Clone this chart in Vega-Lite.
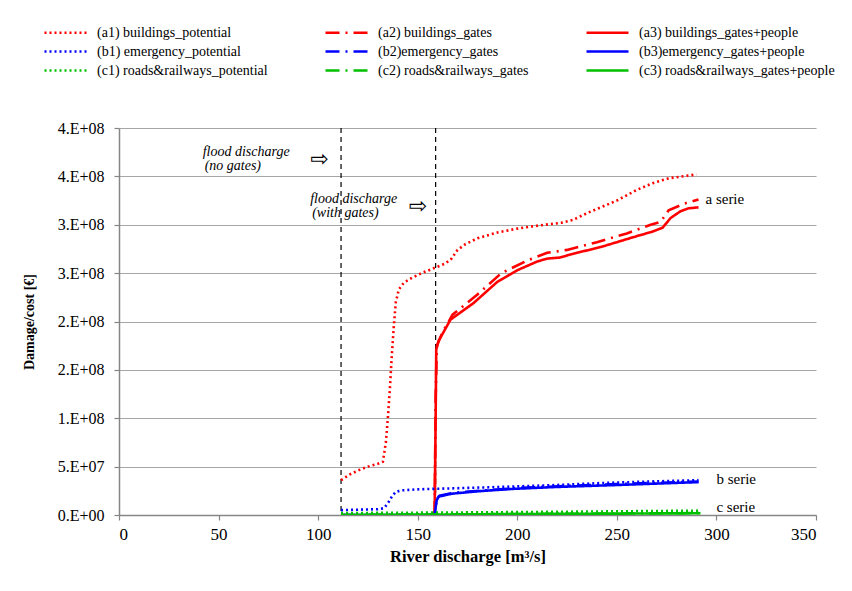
{
  "$schema": "https://vega.github.io/schema/vega-lite/v6.json",
  "width": 697,
  "height": 387,
  "autosize": "none",
  "padding": {"left": 119, "top": 128, "right": 36, "bottom": 76},
  "background": "white",
  "config": {
    "view": {"stroke": null},
    "font": "'Liberation Serif', 'Times New Roman', serif",
    "text": {"font": "'Liberation Serif', 'Times New Roman', serif"},
    "axis": {
      "labelFont": "'Liberation Serif', 'Times New Roman', serif",
      "titleFont": "'Liberation Serif', 'Times New Roman', serif",
      "labelColor": "black",
      "titleColor": "black",
      "domainColor": "#868686",
      "domainWidth": 1.5,
      "tickColor": "#868686",
      "tickWidth": 1.2,
      "tickSize": 5,
      "gridColor": "#a6a6a6",
      "gridWidth": 1.2
    },
    "legend": {
      "labelFont": "'Liberation Serif', 'Times New Roman', serif"
    }
  },
  "datasets": {
    "lines": [
      {"s": "(a1) buildings_potential", "q": 111.5, "d": 36000000},
      {"s": "(a1) buildings_potential", "q": 116, "d": 42000000},
      {"s": "(a1) buildings_potential", "q": 120, "d": 46000000},
      {"s": "(a1) buildings_potential", "q": 125, "d": 50000000},
      {"s": "(a1) buildings_potential", "q": 130, "d": 53000000},
      {"s": "(a1) buildings_potential", "q": 132.5, "d": 55000000},
      {"s": "(a1) buildings_potential", "q": 134, "d": 75000000},
      {"s": "(a1) buildings_potential", "q": 135, "d": 100000000},
      {"s": "(a1) buildings_potential", "q": 136, "d": 130000000},
      {"s": "(a1) buildings_potential", "q": 137, "d": 165000000},
      {"s": "(a1) buildings_potential", "q": 138, "d": 195000000},
      {"s": "(a1) buildings_potential", "q": 139, "d": 220000000},
      {"s": "(a1) buildings_potential", "q": 140.5, "d": 233000000},
      {"s": "(a1) buildings_potential", "q": 143, "d": 240000000},
      {"s": "(a1) buildings_potential", "q": 147, "d": 245000000},
      {"s": "(a1) buildings_potential", "q": 152, "d": 250000000},
      {"s": "(a1) buildings_potential", "q": 158, "d": 255000000},
      {"s": "(a1) buildings_potential", "q": 164, "d": 260000000},
      {"s": "(a1) buildings_potential", "q": 167, "d": 265000000},
      {"s": "(a1) buildings_potential", "q": 170, "d": 274000000},
      {"s": "(a1) buildings_potential", "q": 174, "d": 280000000},
      {"s": "(a1) buildings_potential", "q": 180, "d": 286000000},
      {"s": "(a1) buildings_potential", "q": 190, "d": 292000000},
      {"s": "(a1) buildings_potential", "q": 200, "d": 296000000},
      {"s": "(a1) buildings_potential", "q": 210, "d": 299000000},
      {"s": "(a1) buildings_potential", "q": 222, "d": 302000000},
      {"s": "(a1) buildings_potential", "q": 228, "d": 305000000},
      {"s": "(a1) buildings_potential", "q": 235, "d": 312000000},
      {"s": "(a1) buildings_potential", "q": 250, "d": 325000000},
      {"s": "(a1) buildings_potential", "q": 260, "d": 336000000},
      {"s": "(a1) buildings_potential", "q": 268, "d": 343000000},
      {"s": "(a1) buildings_potential", "q": 276, "d": 348000000},
      {"s": "(a1) buildings_potential", "q": 290, "d": 352000000},

      {"s": "(a2) buildings_gates", "q": 158.5, "d": 0},
      {"s": "(a2) buildings_gates", "q": 159, "d": 120000000},
      {"s": "(a2) buildings_gates", "q": 159.6, "d": 175000000},
      {"s": "(a2) buildings_gates", "q": 162.5, "d": 189000000},
      {"s": "(a2) buildings_gates", "q": 167.5, "d": 207000000},
      {"s": "(a2) buildings_gates", "q": 180, "d": 228000000},
      {"s": "(a2) buildings_gates", "q": 192, "d": 250000000},
      {"s": "(a2) buildings_gates", "q": 205, "d": 263000000},
      {"s": "(a2) buildings_gates", "q": 215, "d": 271000000},
      {"s": "(a2) buildings_gates", "q": 225, "d": 274000000},
      {"s": "(a2) buildings_gates", "q": 240, "d": 282000000},
      {"s": "(a2) buildings_gates", "q": 255, "d": 291000000},
      {"s": "(a2) buildings_gates", "q": 267, "d": 300000000},
      {"s": "(a2) buildings_gates", "q": 272, "d": 303000000},
      {"s": "(a2) buildings_gates", "q": 276, "d": 315000000},
      {"s": "(a2) buildings_gates", "q": 284, "d": 322000000},
      {"s": "(a2) buildings_gates", "q": 291, "d": 326000000},

      {"s": "(a3) buildings_gates+people", "q": 158.5, "d": 0},
      {"s": "(a3) buildings_gates+people", "q": 159, "d": 100000000},
      {"s": "(a3) buildings_gates+people", "q": 159.3, "d": 171000000},
      {"s": "(a3) buildings_gates+people", "q": 160.5, "d": 180000000},
      {"s": "(a3) buildings_gates+people", "q": 166.5, "d": 202000000},
      {"s": "(a3) buildings_gates+people", "q": 178, "d": 219000000},
      {"s": "(a3) buildings_gates+people", "q": 190, "d": 241000000},
      {"s": "(a3) buildings_gates+people", "q": 200, "d": 253000000},
      {"s": "(a3) buildings_gates+people", "q": 210, "d": 262000000},
      {"s": "(a3) buildings_gates+people", "q": 215, "d": 265000000},
      {"s": "(a3) buildings_gates+people", "q": 221, "d": 266000000},
      {"s": "(a3) buildings_gates+people", "q": 230, "d": 271000000},
      {"s": "(a3) buildings_gates+people", "q": 242, "d": 277000000},
      {"s": "(a3) buildings_gates+people", "q": 258, "d": 287000000},
      {"s": "(a3) buildings_gates+people", "q": 268, "d": 293000000},
      {"s": "(a3) buildings_gates+people", "q": 273, "d": 297000000},
      {"s": "(a3) buildings_gates+people", "q": 277, "d": 307000000},
      {"s": "(a3) buildings_gates+people", "q": 282, "d": 314000000},
      {"s": "(a3) buildings_gates+people", "q": 286, "d": 317000000},
      {"s": "(a3) buildings_gates+people", "q": 291, "d": 318000000},

      {"s": "(b1) emergency_potential", "q": 111.5, "d": 5000000},
      {"s": "(b1) emergency_potential", "q": 120, "d": 5500000},
      {"s": "(b1) emergency_potential", "q": 130, "d": 6000000},
      {"s": "(b1) emergency_potential", "q": 133, "d": 7000000},
      {"s": "(b1) emergency_potential", "q": 135, "d": 12000000},
      {"s": "(b1) emergency_potential", "q": 137, "d": 19000000},
      {"s": "(b1) emergency_potential", "q": 139, "d": 24000000},
      {"s": "(b1) emergency_potential", "q": 142, "d": 25500000},
      {"s": "(b1) emergency_potential", "q": 150, "d": 26500000},
      {"s": "(b1) emergency_potential", "q": 158, "d": 27000000},
      {"s": "(b1) emergency_potential", "q": 175, "d": 28000000},
      {"s": "(b1) emergency_potential", "q": 192, "d": 29000000},
      {"s": "(b1) emergency_potential", "q": 220, "d": 31000000},
      {"s": "(b1) emergency_potential", "q": 242, "d": 33000000},
      {"s": "(b1) emergency_potential", "q": 265, "d": 34500000},
      {"s": "(b1) emergency_potential", "q": 291, "d": 36000000},

      {"s": "(b2)emergency_gates", "q": 111.5, "d": 0},
      {"s": "(b2)emergency_gates", "q": 158.5, "d": 0},
      {"s": "(b2)emergency_gates", "q": 159.5, "d": 16000000},
      {"s": "(b2)emergency_gates", "q": 161, "d": 20000000},
      {"s": "(b2)emergency_gates", "q": 168, "d": 23000000},
      {"s": "(b2)emergency_gates", "q": 200, "d": 28000000},
      {"s": "(b2)emergency_gates", "q": 250, "d": 32000000},
      {"s": "(b2)emergency_gates", "q": 291, "d": 34500000},

      {"s": "(b3)emergency_gates+people", "q": 111.5, "d": 0},
      {"s": "(b3)emergency_gates+people", "q": 158.5, "d": 0},
      {"s": "(b3)emergency_gates+people", "q": 159.5, "d": 15000000},
      {"s": "(b3)emergency_gates+people", "q": 160.5, "d": 19000000},
      {"s": "(b3)emergency_gates+people", "q": 167, "d": 22000000},
      {"s": "(b3)emergency_gates+people", "q": 180, "d": 24500000},
      {"s": "(b3)emergency_gates+people", "q": 198, "d": 27000000},
      {"s": "(b3)emergency_gates+people", "q": 220, "d": 29000000},
      {"s": "(b3)emergency_gates+people", "q": 250, "d": 31000000},
      {"s": "(b3)emergency_gates+people", "q": 291, "d": 34000000},

      {"s": "(c1) roads&railways_potential", "q": 111.5, "d": 2000000},
      {"s": "(c1) roads&railways_potential", "q": 160, "d": 2500000},
      {"s": "(c1) roads&railways_potential", "q": 200, "d": 3000000},
      {"s": "(c1) roads&railways_potential", "q": 250, "d": 3800000},
      {"s": "(c1) roads&railways_potential", "q": 292, "d": 4500000},

      {"s": "(c2) roads&railways_gates", "q": 111.5, "d": 0},
      {"s": "(c2) roads&railways_gates", "q": 158.5, "d": 500000},
      {"s": "(c2) roads&railways_gates", "q": 200, "d": 1000000},
      {"s": "(c2) roads&railways_gates", "q": 292, "d": 2000000},

      {"s": "(c3) roads&railways_gates+people", "q": 111.5, "d": 0},
      {"s": "(c3) roads&railways_gates+people", "q": 158.5, "d": 500000},
      {"s": "(c3) roads&railways_gates+people", "q": 200, "d": 1000000},
      {"s": "(c3) roads&railways_gates+people", "q": 292, "d": 1800000}
    ]
  },
  "layer": [
    {
      "data": {"values": [{"q": 111.5}, {"q": 159}]},
      "mark": {"type": "rule", "color": "black", "strokeWidth": 1.2, "strokeDash": [5, 4]},
      "encoding": {
        "x": {"field": "q", "type": "quantitative", "scale": {"domain": [0, 350]}}
      }
    },
    {
      "data": {"name": "lines"},
      "mark": {"type": "line", "strokeWidth": 2.6, "clip": true},
      "encoding": {
        "x": {
          "field": "q", "type": "quantitative",
          "scale": {"domain": [0, 350], "nice": false},
          "axis": {
            "values": [0, 50, 100, 150, 200, 250, 300, 350],
            "grid": false,
            "labelFontSize": 17,
            "labelPadding": 6,
            "title": "River discharge [m³/s]",
            "titleFontSize": 16.5,
            "titleFontWeight": "bold",
            "titlePadding": 6
          }
        },
        "y": {
          "field": "d", "type": "quantitative",
          "scale": {"domain": [0, 400000000], "nice": false},
          "axis": {
            "values": [0, 50000000, 100000000, 150000000, 200000000, 250000000, 300000000, 350000000, 400000000],
            "labelExpr": "datum.value == 0 ? '0.E+00' : datum.value == 50000000 ? '5.E+07' : datum.value == 100000000 ? '1.E+08' : datum.value <= 200000000 ? '2.E+08' : datum.value <= 300000000 ? '3.E+08' : '4.E+08'",
            "grid": true,
            "labelFontSize": 16,
            "labelPadding": 10,
            "title": "Damage/cost [€]",
            "titleFontSize": 14,
            "titleFontWeight": "bold",
            "titlePadding": 21
          }
        },
        "color": {
          "field": "s", "type": "nominal",
          "scale": {
            "domain": ["(a1) buildings_potential", "(a2) buildings_gates", "(a3) buildings_gates+people",
                       "(b1) emergency_potential", "(b2)emergency_gates", "(b3)emergency_gates+people",
                       "(c1) roads&railways_potential", "(c2) roads&railways_gates", "(c3) roads&railways_gates+people"],
            "range": ["#ff0000", "#ff0000", "#ff0000", "#0000ff", "#0000ff", "#0000ff", "#00c000", "#00c000", "#00c000"]
          },
          "legend": {
            "orient": "none", "legendX": -64, "legendY": -106, "direction": "horizontal",
            "columns": 3, "gridAlign": "each", "columnPadding": 52, "rowPadding": 1,
            "title": null, "padding": 0,
            "symbolType": "M-2.333,0H2.333", "symbolSize": 324, "symbolStrokeWidth": 2.6,
            "labelFontSize": 14, "labelColor": "black",
            "labelOffset": 21, "labelLimit": 300
          }
        },
        "strokeDash": {
          "field": "s", "type": "nominal",
          "scale": {
            "domain": ["(a1) buildings_potential", "(a2) buildings_gates", "(a3) buildings_gates+people",
                       "(b1) emergency_potential", "(b2)emergency_gates", "(b3)emergency_gates+people",
                       "(c1) roads&railways_potential", "(c2) roads&railways_gates", "(c3) roads&railways_gates+people"],
            "range": [[2, 3], [14, 6, 2, 6], [1, 0], [2, 3], [14, 6, 2, 6], [1, 0], [2, 3], [14, 6, 2, 6], [1, 0]]
          },
          "legend": {
            "orient": "none", "legendX": -64, "legendY": -106, "direction": "horizontal",
            "columns": 3, "gridAlign": "each", "columnPadding": 52, "rowPadding": 1,
            "title": null, "padding": 0,
            "symbolType": "M-2.333,0H2.333", "symbolSize": 324, "symbolStrokeWidth": 2.6,
            "labelFontSize": 14, "labelColor": "black",
            "labelOffset": 21, "labelLimit": 300
          }
        }
      }
    },
    {
      "data": {"values": [
        {"t": "flood discharge", "q": 42, "d": 375000000},
        {"t": "(no gates)", "q": 43, "d": 361000000},
        {"t": "flood discharge", "q": 96, "d": 327000000},
        {"t": "(with gates)", "q": 97, "d": 312000000}
      ]},
      "mark": {"type": "text", "align": "left", "baseline": "middle", "fontStyle": "italic", "fontSize": 14, "color": "black"},
      "encoding": {
        "x": {"field": "q", "type": "quantitative"},
        "y": {"field": "d", "type": "quantitative"},
        "text": {"field": "t"}
      }
    },
    {
      "data": {"values": [
        {"t": "⇨", "q": 96, "d": 368000000},
        {"t": "⇨", "q": 145.5, "d": 319000000}
      ]},
      "mark": {"type": "text", "align": "left", "baseline": "middle", "font": "DejaVu Sans", "fontSize": 22, "color": "black"},
      "encoding": {
        "x": {"field": "q", "type": "quantitative"},
        "y": {"field": "d", "type": "quantitative"},
        "text": {"field": "t"}
      }
    },
    {
      "data": {"values": [
        {"t": "a serie", "q": 294.5, "d": 327000000},
        {"t": "b serie", "q": 300, "d": 37000000},
        {"t": "c serie", "q": 300, "d": 8500000}
      ]},
      "mark": {"type": "text", "align": "left", "baseline": "middle", "fontSize": 15, "color": "black"},
      "encoding": {
        "x": {"field": "q", "type": "quantitative"},
        "y": {"field": "d", "type": "quantitative"},
        "text": {"field": "t"}
      }
    }
  ]
}
